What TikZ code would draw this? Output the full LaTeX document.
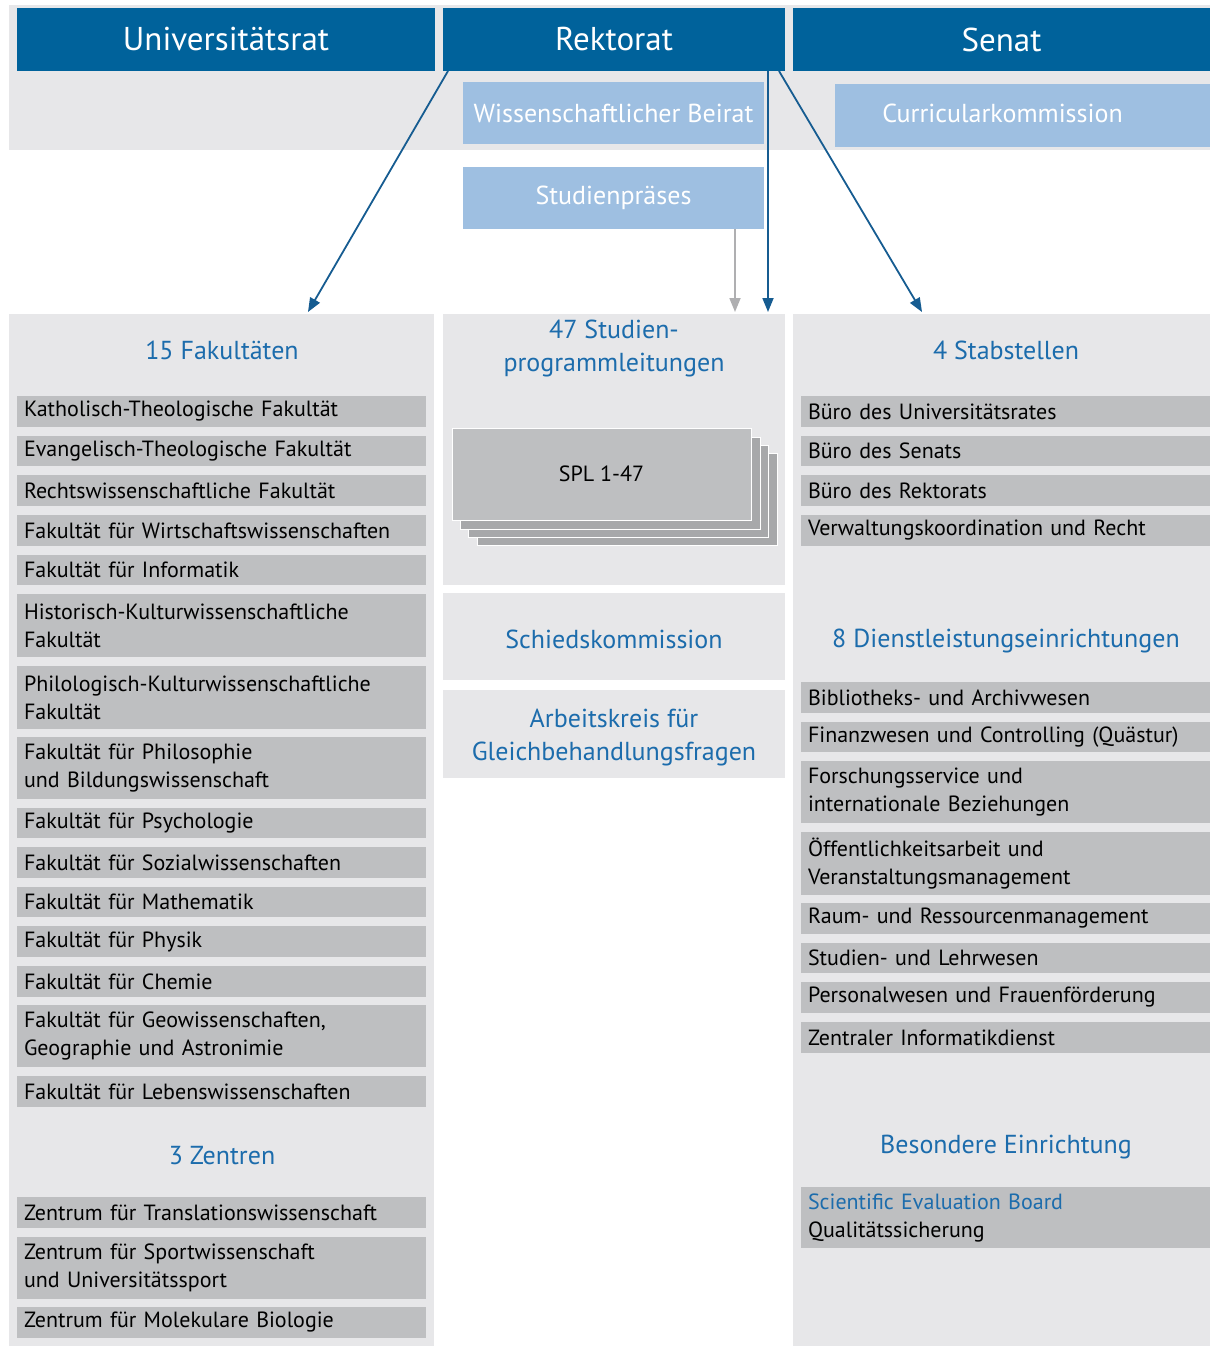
\documentclass[tikz,border=0pt]{standalone}
\usepackage{fontspec}
\setmainfont{PT Sans}
\usetikzlibrary{arrows.meta,calc}
\definecolor{topblue}{RGB}{0,98,155}
\definecolor{lightblue}{RGB}{158,191,225}
\definecolor{bggray}{RGB}{231,231,233}
\definecolor{itemgray}{RGB}{190,191,193}
\definecolor{stackgray}{RGB}{167,168,170}
\definecolor{titleblue}{RGB}{28,108,172}
\definecolor{arrowblue}{RGB}{22,92,145}
\definecolor{arrowgray}{RGB}{175,175,177}
\begin{document}
\begin{tikzpicture}[x=1pt,y=-1pt,
  every node/.style={inner sep=0pt,outer sep=0pt},
  panel/.style={fill=bggray,anchor=north west},
  head/.style={fill=topblue,text=white,anchor=north west,font=\fontsize{33}{38}\selectfont},
  lbox/.style={fill=lightblue,text=white,anchor=north west,font=\fontsize{26}{30}\selectfont},
  ttl/.style={text=titleblue,align=center,font=\fontsize{26}{33}\selectfont},
  item/.style={fill=itemgray,anchor=north west,inner xsep=7pt,text width=395pt,align=left,font=\fontsize{22}{28}\selectfont},
  stk/.style={fill=stackgray,draw=white,line width=0.8pt,anchor=north west,minimum width=300,minimum height=92},
  arr/.style={draw=arrowblue,line width=1.8pt,-{Triangle[length=14pt,width=11pt]}},
  garr/.style={draw=arrowgray,line width=1.8pt,-{Triangle[length=14pt,width=11pt]}}
]
\useasboundingbox (0,0) rectangle (1210,1346);
% top band
\node[panel,minimum width=1201,minimum height=145] (band) at (9,5) {};
% headers
\node[head,minimum width=418,minimum height=63] (ur) at (17,8) {Universitätsrat};
\node[head,minimum width=342,minimum height=63] (rek) at (443,8) {Rektorat};
\node[head,minimum width=417,minimum height=63] (sen) at (793,8) {Senat};
% light boxes
\node[lbox,minimum width=301,minimum height=62] (wb) at (463,82) {Wissenschaftlicher Beirat};
\node[lbox,minimum width=375,minimum height=63] (ck) at (835,84) {};
\node[text=white,font=\fontsize{26}{30}\selectfont] (ckt) at ($(ck.center)+(-20,-2)$) {Curricularkommission};
\node[lbox,minimum width=301,minimum height=62] (stp) at (463,167) {Studienpräses};
% columns
\node[panel,minimum width=425,minimum height=1032] (fcol) at (9,314) {};
\node[panel,minimum width=342,minimum height=271] (smp) at (443,314) {};
\node[panel,minimum width=342,minimum height=87] (sch) at (443,593) {};
\node[panel,minimum width=342,minimum height=88] (ak) at (443,690) {};
\node[panel,minimum width=417,minimum height=1032] (rcol) at (793,314) {};
% titles
\node[ttl] (tfak) at (222,350) {15 Fakultäten};
\node[ttl] (tzen) at (222,1156) {3 Zentren};
\node[ttl] (tspl) at (614,348) {47 Studien-\\programmleitungen};
\node[ttl] (tsch) at (614,639) {Schiedskommission};
\node[ttl] (tak) at (614,738) {Arbeitskreis für\\Gleichbehandlungsfragen};
\node[ttl] (tstab) at (1006,350) {4 Stabstellen};
\node[ttl] (tdl) at (1006,641) {8 Dienstleistungseinrichtungen};
\node[ttl] (tbes) at (1006,1147) {Besondere Einrichtung};
% SPL stack
\node[stk] (s3) at (477,453) {};
\node[stk] (s2) at (468,445) {};
\node[stk] (s1) at (460,437) {};
\node[stk,fill=itemgray,minimum width=299] (s0) at (452,428) {};
\node[font=\fontsize{22}{24}\selectfont] (spl) at (s0.center) {SPL 1-47};
% left items
\node[item,minimum height=31] (f1) at (17,396) {Katholisch-Theologische Fakultät};
\node[item,minimum height=30] (f2) at (17,436) {Evangelisch-Theologische Fakultät};
\node[item,minimum height=31] (f3) at (17,475) {Rechtswissenschaftliche Fakultät};
\node[item,minimum height=31] (f4) at (17,515) {Fakultät für Wirtschaftswissenschaften};
\node[item,minimum height=30] (f5) at (17,555) {Fakultät für Informatik};
\node[item,minimum height=63] (f6) at (17,594) {Historisch-Kulturwissenschaftliche\\Fakultät};
\node[item,minimum height=63] (f7) at (17,666) {Philologisch-Kulturwissenschaftliche\\Fakultät};
\node[item,minimum height=62] (f8) at (17,737) {Fakultät für Philosophie\\und Bildungswissenschaft};
\node[item,minimum height=30] (f9) at (17,808) {Fakultät für Psychologie};
\node[item,minimum height=31] (f10) at (17,847) {Fakultät für Sozialwissenschaften};
\node[item,minimum height=30] (f11) at (17,887) {Fakultät für Mathematik};
\node[item,minimum height=31] (f12) at (17,926) {Fakultät für Physik};
\node[item,minimum height=31] (f13) at (17,966) {Fakultät für Chemie};
\node[item,minimum height=62] (f14) at (17,1005) {Fakultät für Geowissenschaften,\\Geographie und Astronimie};
\node[item,minimum height=31] (f15) at (17,1076) {Fakultät für Lebenswissenschaften};
\node[item,minimum height=31] (z1) at (17,1197) {Zentrum für Translationswissenschaft};
\node[item,minimum height=62] (z2) at (17,1237) {Zentrum für Sportwissenschaft\\und Universitätssport};
\node[item,minimum height=31] (z3) at (17,1307) {Zentrum für Molekulare Biologie};
% right items
\node[item,minimum height=31] (b1) at (801,396) {Büro des Universitätsrates};
\node[item,minimum height=30] (b2) at (801,436) {Büro des Senats};
\node[item,minimum height=31] (b3) at (801,475) {Büro des Rektorats};
\node[item,minimum height=31] (b4) at (801,515) {Verwaltungskoordination und Recht};
\node[item,minimum height=31] (d1) at (801,682) {Bibliotheks- und Archivwesen};
\node[item,minimum height=30] (d2) at (801,722) {Finanzwesen und Controlling (Quästur)};
\node[item,minimum height=62] (d3) at (801,761) {Forschungsservice und\\internationale Beziehungen};
\node[item,minimum height=63] (d4) at (801,832) {Öffentlichkeitsarbeit und\\Veranstaltungsmanagement};
\node[item,minimum height=31] (d5) at (801,903) {Raum- und Ressourcenmanagement};
\node[item,minimum height=30] (d6) at (801,943) {Studien- und Lehrwesen};
\node[item,minimum height=31] (d7) at (801,982) {Personalwesen und Frauenförderung};
\node[item,minimum height=31] (d8) at (801,1022) {Zentraler Informatikdienst};
\node[item,minimum height=61] (be) at (801,1187) {\textcolor{titleblue}{Scientific Evaluation Board}\\Qualitätssicherung};
% arrows
\draw[arr] ($(rek.south west)+(5,0)$) -- ($(fcol.north west)+(299,-2)$);
\draw[arr] ($(rek.south east)+(-17,0)$) -- ($(smp.north east)+(-17,-2)$);
\draw[arr] ($(rek.south east)+(-6,0)$) -- ($(rcol.north west)+(129,-2)$);
\draw[garr] ($(stp.south east)+(-29,0)$) -- ($(smp.north east)+(-50,-2)$);
\end{tikzpicture}
\end{document}
